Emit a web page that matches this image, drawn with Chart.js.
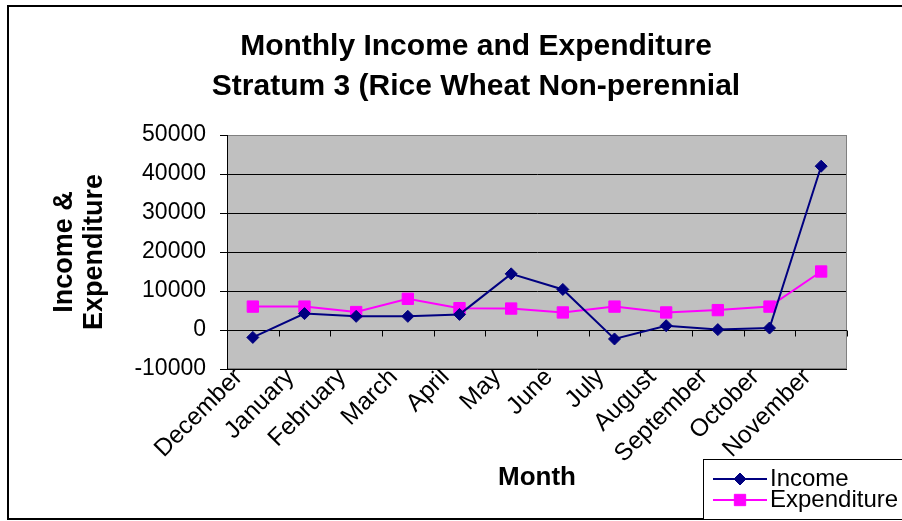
<!DOCTYPE html>
<html>
<head>
<meta charset="utf-8">
<script src="https://cdn.jsdelivr.net/npm/chart.js@4.4.1/dist/chart.umd.min.js"></script>
<style>
  html, body { margin: 0; padding: 0; background: #fff; }
  #wrap { width: 902px; height: 521px; position: relative; }
</style>
</head>
<body>
<div id="wrap"><canvas id="chart"></canvas></div>
<script>
const months = ['December', 'January', 'February', 'March', 'April', 'May',
  'June', 'July', 'August', 'September', 'October', 'November'];
const income = [-1900, 4200, 3500, 3500, 4000, 14400, 10400, -2300, 1100, 100, 500, 42000];
const expenditure = [6000, 6000, 4600, 8000, 5600, 5500, 4500, 6000, 4500, 5100, 6000, 15000];

const FONT = "'Liberation Sans', Arial, sans-serif";
const INCOME_COLOR = '#000080';
const EXP_COLOR = '#FF00FF';

// Excel-style frame: white page, grey plot area, axis ticks on the zero line,
// and the boxed legend at the bottom right.
const excelFrame = {
  id: 'excelFrame',
  afterLayout(chart) {
    // centre the title the way the original does (not on the full canvas)
    const t = chart.titleBlock;
    t.left = 50; t.right = 902; t.width = 852;
  },
  beforeDraw(chart) {
    const { ctx, chartArea: a } = chart;
    ctx.save();
    ctx.fillStyle = '#fff';
    ctx.fillRect(0, 0, chart.width, chart.height);
    ctx.fillStyle = '#C0C0C0';
    ctx.fillRect(a.left, a.top, a.right - a.left, a.bottom - a.top);
    ctx.restore();
    // Excel hangs the rotated month names a little left of the category centre
    chart.scales.x.getLabelItems(a).forEach(item => {
      item.options.translation[0] -= 14;
      item.options.translation[1] -= 14;
    });
  },
  beforeDatasetsDraw(chart) {
    const { ctx, chartArea: a, scales: { x, y } } = chart;
    ctx.save();
    ctx.strokeStyle = '#808080';
    ctx.lineWidth = 1;
    ctx.strokeRect(a.left + 0.5, a.top + 0.5, a.right - a.left - 1, a.bottom - a.top - 1);
    ctx.strokeStyle = '#000';
    ctx.beginPath();
    ctx.moveTo(a.left + 0.5, a.top);
    ctx.lineTo(a.left + 0.5, a.bottom);
    // category axis crosses at 0
    const y0 = Math.round(y.getPixelForValue(0)) + 0.5;
    ctx.moveTo(a.left, y0);
    ctx.lineTo(a.right, y0);
    const half = (x.getPixelForValue(1) - x.getPixelForValue(0)) / 2;
    for (let i = 0; i <= months.length; i++) {
      const px = Math.round(x.getPixelForValue(i) - half) + 0.5;
      ctx.moveTo(px, y0);
      ctx.lineTo(px, y0 + 6);
    }
    ctx.stroke();
    ctx.restore();
  },
  afterDraw(chart) {
    const ctx = chart.ctx;
    ctx.save();
    // outer chart border
    ctx.strokeStyle = '#000';
    ctx.lineWidth = 2;
    ctx.strokeRect(8, 6, 1000, 513);
    // legend box
    ctx.fillStyle = '#fff';
    ctx.fillRect(703, 459, 210, 61);
    ctx.lineWidth = 1;
    ctx.strokeRect(703.5, 459.5, 210, 60);
    const rows = [479, 500];
    chart.data.datasets.forEach((ds, i) => {
      const yy = rows[i];
      ctx.strokeStyle = ds.borderColor;
      ctx.lineWidth = 2;
      ctx.beginPath();
      ctx.moveTo(713, yy);
      ctx.lineTo(767, yy);
      ctx.stroke();
      ctx.fillStyle = ds.pointBackgroundColor;
      ctx.strokeStyle = ds.pointBorderColor;
      ctx.lineWidth = 1;
      Chart.helpers.drawPoint(ctx, { pointStyle: ds.pointStyle, radius: ds.pointRadius, rotation: 0, borderWidth: 1 }, 740, yy);
      ctx.fillStyle = '#000';
      ctx.font = '24px ' + FONT;
      ctx.textBaseline = 'middle';
      ctx.textAlign = 'left';
      ctx.fillText(ds.label, 770, yy);
    });
    ctx.restore();
  }
};

new Chart(document.getElementById('chart'), {
  type: 'line',
  data: {
    labels: months,
    datasets: [
      {
        label: 'Income',
        data: income,
        borderColor: INCOME_COLOR,
        borderWidth: 2,
        pointStyle: 'rectRot',
        pointRadius: 6,
        pointBackgroundColor: INCOME_COLOR,
        pointBorderColor: INCOME_COLOR,
        pointBorderWidth: 1,
        tension: 0
      },
      {
        label: 'Expenditure',
        data: expenditure,
        borderColor: EXP_COLOR,
        borderWidth: 2,
        pointStyle: 'rect',
        pointRadius: 8,
        pointBackgroundColor: EXP_COLOR,
        pointBorderColor: EXP_COLOR,
        pointBorderWidth: 1,
        tension: 0
      }
    ]
  },
  options: {
    responsive: true,
    maintainAspectRatio: false,
    animation: false,
    layout: { padding: { left: 0, right: 55, top: 0, bottom: 0 } },
    plugins: {
      legend: { display: false },
      tooltip: { enabled: false },
      title: {
        display: true,
        text: ['Monthly Income and Expenditure', 'Stratum 3 (Rice Wheat Non-perennial'],
        color: '#000',
        font: { family: FONT, size: 30, weight: 'bold', lineHeight: 40 / 30 },
        padding: { top: 27, bottom: 28 }
      }
    },
    scales: {
      x: {
        type: 'category',
        offset: true,
        grid: { display: false },
        border: { display: false },
        ticks: {
          autoSkip: false,
          maxRotation: 45,
          minRotation: 45,
          color: '#000',
          padding: 0,
          font: { family: FONT, size: 24.5 }
        },
        title: {
          display: true,
          text: 'Month',
          color: '#000',
          font: { family: FONT, size: 26, weight: 'bold', lineHeight: 1.2 },
          padding: { top: 0, bottom: 28 }
        },
        afterFit(scale) { scale.height = 152; }
      },
      y: {
        min: -10000,
        max: 50000,
        grid: { color: '#000', lineWidth: 1, tickLength: 7, drawTicks: true },
        border: { color: '#000', width: 1 },
        ticks: {
          stepSize: 10000,
          color: '#000',
          padding: 14,
          font: { family: FONT, size: 23 },
          callback: v => String(v)
        },
        title: {
          display: true,
          text: ['Income &', 'Expenditure'],
          color: '#000',
          font: { family: FONT, size: 27, weight: 'bold', lineHeight: 30 / 27 },
          padding: { top: 50, bottom: 0 }
        },
        afterFit(scale) { scale.width = 227; }
      }
    }
  },
  plugins: [excelFrame]
});
</script>
</body>
</html>
